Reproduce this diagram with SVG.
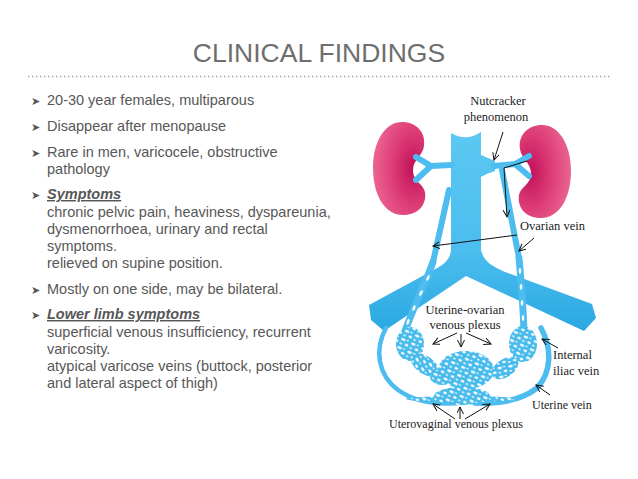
<svg xmlns="http://www.w3.org/2000/svg" width="638" height="479" viewBox="0 0 638 479">
<style>
.body{font-family:"Liberation Sans",Arial,sans-serif;font-size:14.5px;fill:#575757}
.head{font-weight:bold;font-style:italic;text-decoration:underline}
.bul{font-family:"DejaVu Sans",sans-serif;font-size:11px;fill:#575757}
.lbl{font-family:"Liberation Serif","Times New Roman",serif;font-size:12.5px;fill:#222}
.vein{fill:none;stroke:#4cbdee;stroke-linecap:round;stroke-linejoin:round}
.hole{fill:#fff}
.arr{fill:none;stroke:#111;stroke-width:1;marker-end:url(#ah)}
</style>
<defs>
<marker id="ah" markerUnits="userSpaceOnUse" markerWidth="10" markerHeight="10" refX="7" refY="3.5" orient="auto">
<path d="M0,0 L7,3.5 L0,7" fill="none" stroke="#111" stroke-width="1"/>
</marker>
<radialGradient id="kid" cx="0.78" cy="0.5" r="0.85">
<stop offset="0" stop-color="#c0105a"/>
<stop offset="0.45" stop-color="#dc3a74"/>
<stop offset="1" stop-color="#ee6d98"/>
</radialGradient>
<linearGradient id="trunk" x1="0" y1="0" x2="0" y2="1">
<stop offset="0" stop-color="#5cc8f3"/>
<stop offset="0.6" stop-color="#4bbdee"/>
<stop offset="1" stop-color="#2aa8e2"/>
</linearGradient>
<pattern id="plex" width="11" height="9" patternUnits="userSpaceOnUse" patternTransform="rotate(25)">
<rect width="11" height="9" fill="#45baec"/>
<ellipse cx="3" cy="2.2" rx="2.4" ry="1.2" fill="#fff"/>
<ellipse cx="8.3" cy="6" rx="1.9" ry="1.3" fill="#fff"/>
<ellipse cx="7.6" cy="1.5" rx="1.2" ry="0.7" fill="#fff"/>
<ellipse cx="2.4" cy="6.8" rx="1.4" ry="0.9" fill="#fff"/>
</pattern>
<path id="kidney" d="M402,122 C386,122 373,140 373,168 C373,197 386,215 403,215 C418,215 427,205 425,192 C423,183 413,182 413,170 C413,160 423,155 424,146 C426,132 416,122 402,122 Z"/>
</defs>

<rect width="638" height="479" fill="#fff"/>

<g id="title">
<text x="319" y="62" text-anchor="middle" style="font-family:'Liberation Sans',Arial,sans-serif;font-size:26.5px;fill:#6e6e6e">CLINICAL FINDINGS</text>
<line x1="28" y1="76.5" x2="610" y2="76.5" stroke="#9a9a9a" stroke-width="1.3" stroke-dasharray="1.3 2.7"/>
</g>

<g id="bullets">
<text class="bul" x="31" y="105">➤</text>
<text class="bul" x="31" y="131">➤</text>
<text class="bul" x="31" y="157">➤</text>
<text class="bul" x="31" y="199">➤</text>
<text class="bul" x="31" y="294">➤</text>
<text class="bul" x="31" y="319">➤</text>
<text class="body" x="47" y="105">20-30 year females, multiparous</text>
<text class="body" x="47" y="131">Disappear after menopause</text>
<text class="body" x="47" y="157">Rare in men, varicocele, obstructive</text>
<text class="body" x="47" y="174">pathology</text>
<text class="body head" x="47" y="199">Symptoms</text>
<text class="body" x="47" y="217">chronic pelvic pain, heaviness, dyspareunia,</text>
<text class="body" x="47" y="234">dysmenorrhoea, urinary and rectal</text>
<text class="body" x="47" y="251">symptoms.</text>
<text class="body" x="47" y="268">relieved on supine position.</text>
<text class="body" x="47" y="294">Mostly on one side, may be bilateral.</text>
<text class="body head" x="47" y="319">Lower limb symptoms</text>
<text class="body" x="47" y="337">superficial venous insufficiency, recurrent</text>
<text class="body" x="47" y="354">varicosity.</text>
<text class="body" x="47" y="371">atypical varicose veins (buttock, posterior</text>
<text class="body" x="47" y="388">and lateral aspect of thigh)</text>
</g>

<g id="kidneys">
<use href="#kidney" fill="url(#kid)"/>
<use href="#kidney" fill="url(#kid)" transform="translate(944,3) scale(-1,1)"/>
</g>

<g id="veins">
<path d="M451,133 Q466,142 481,132 L481,155 Q488,158 495,161 L495,171 Q488,173 481,177 L481,250 C484,262 492,266 505,272 L592,304 L596,318 L584,331 L466,276 L384,331 L371,320 L369,305 L428,273 C440,267 450,262 451,250 Z" fill="url(#trunk)"/>
<path class="vein" stroke-width="6" d="M452,165 L430,166 M431,166 L416,157 M431,166 L416,180"/>
<path class="vein" stroke-width="6" d="M494,166 L516,164 M515,164 L529,156 M515,164 L529,176"/>
<path class="vein" stroke-width="6" d="M449,190 L433,262"/>
<path class="vein" stroke-width="7" d="M433,262 C425,285 412,310 404,334"/>
<path class="vein" stroke-width="6" d="M502,170 L519,258"/>
<path class="vein" stroke-width="7" d="M519,258 C521,280 523,300 524,332"/>
<path class="vein" stroke-width="4.5" d="M386,328 C374,350 378,375 398,390 C415,402 435,405 458,403"/>
<path class="vein" stroke-width="5.5" d="M541,328 C552,348 552,372 537,388 C522,400 500,404 475,403"/>
<g class="hole">
<ellipse cx="428" cy="278" rx="1.3" ry="3" transform="rotate(25 428 278)"/>
<ellipse cx="421" cy="293" rx="1.3" ry="3" transform="rotate(25 421 293)"/>
<ellipse cx="414" cy="308" rx="1.3" ry="3" transform="rotate(22 414 308)"/>
<ellipse cx="408" cy="322" rx="1.3" ry="3" transform="rotate(20 408 322)"/>
<ellipse cx="520" cy="271" rx="1.3" ry="3"/>
<ellipse cx="521" cy="287" rx="1.3" ry="3"/>
<ellipse cx="522" cy="303" rx="1.3" ry="3"/>
<ellipse cx="523" cy="318" rx="1.3" ry="3"/>
</g>
</g>

<g id="plexus" fill="url(#plex)">
<ellipse cx="410" cy="344" rx="14" ry="17"/>
<ellipse cx="425" cy="365" rx="16" ry="9" transform="rotate(35 425 365)"/>
<ellipse cx="442" cy="377" rx="12" ry="8"/>
<ellipse cx="466" cy="370" rx="28" ry="19"/>
<ellipse cx="505" cy="368" rx="15" ry="9" transform="rotate(-35 505 368)"/>
<ellipse cx="523" cy="344" rx="14" ry="18"/>
<ellipse cx="462" cy="396" rx="28" ry="9"/>
<ellipse cx="462" cy="399" rx="56" ry="3"/>
</g>

<g id="labels">
<text class="lbl" x="498" y="105" text-anchor="middle">Nutcracker</text>
<text class="lbl" x="496" y="121" text-anchor="middle">phenomenon</text>
<text class="lbl" x="520" y="230">Ovarian vein</text>
<text class="lbl" x="465" y="314" text-anchor="middle">Uterine-ovarian</text>
<text class="lbl" x="465" y="329" text-anchor="middle">venous plexus</text>
<text class="lbl" x="553" y="359">Internal</text>
<text class="lbl" x="553" y="375">iliac vein</text>
<text class="lbl" x="532" y="409" style="font-size:12px">Uterine vein</text>
<text class="lbl" x="456" y="428" text-anchor="middle" style="font-size:12px">Uterovaginal venous plexus</text>
</g>

<g id="connectors">
<line class="arr" x1="503" y1="132" x2="494" y2="160"/>
<polyline class="arr" points="527,161 504,168 507,217"/>
<line class="arr" x1="517" y1="235" x2="433" y2="246"/>
<line class="arr" x1="534" y1="238" x2="519" y2="251"/>
<line class="arr" x1="457" y1="333" x2="433" y2="344"/>
<line class="arr" x1="461" y1="334" x2="461" y2="347"/>
<line class="arr" x1="466" y1="333" x2="491" y2="344"/>
<line class="arr" x1="558" y1="348" x2="542" y2="339"/>
<line class="arr" x1="550" y1="395" x2="536" y2="385"/>
<line class="arr" x1="455" y1="419" x2="433" y2="404"/>
<line class="arr" x1="460" y1="419" x2="460" y2="407"/>
<line class="arr" x1="465" y1="419" x2="490" y2="404"/>
</g>
</svg>
